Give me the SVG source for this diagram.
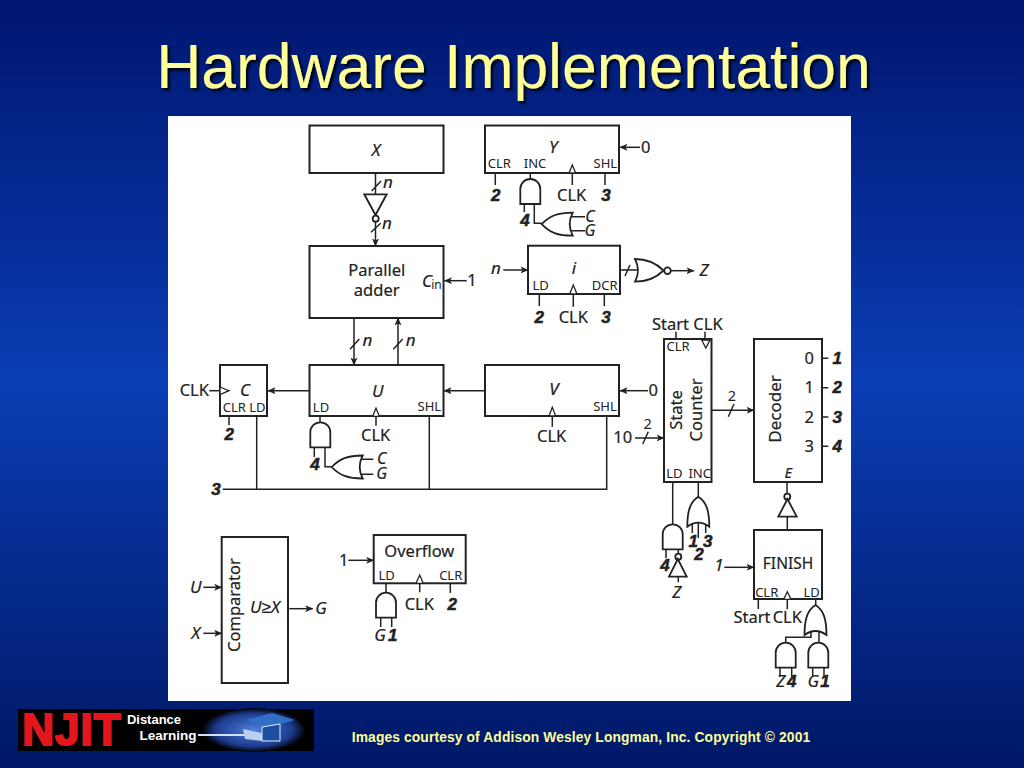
<svg xmlns="http://www.w3.org/2000/svg" width="1024" height="768" viewBox="0 0 1024 768">
<style>
text{font-family:"Noto Sans","Liberation Sans",sans-serif;fill:#222;text-anchor:middle;dominant-baseline:central}
.box{fill:#fff;stroke:#222;stroke-width:2}
.w{fill:none;stroke:#222;stroke-width:1.5}
.a{fill:none;stroke:#222;stroke-width:1.5;marker-end:url(#ah)}
.g{fill:#fff;stroke:#222;stroke-width:1.8}
.ck{fill:#fff;stroke:#222;stroke-width:1.3}
.m{font-size:16.5px;stroke:#222;stroke-width:.2}
.s{font-size:13px}
.t{font-size:14.5px}
.i{font-size:17px;font-style:italic;stroke:#222;stroke-width:.2}
.cg{font-size:16px}
.b{font-size:17px;font-style:italic;font-weight:700;font-family:"Liberation Sans",sans-serif;stroke:#222;stroke-width:.5}
.l{font-family:"Liberation Sans",sans-serif;font-weight:700}
</style>
<defs>
<linearGradient id="bg" x1="0" y1="0" x2="0" y2="1">
<stop offset="0" stop-color="#001670"/><stop offset="0.5" stop-color="#0a3db4"/><stop offset="1" stop-color="#001866"/>
</linearGradient>
<radialGradient id="gl" cx="0.5" cy="0.5" r="0.5">
<stop offset="0" stop-color="#4f7fd8"/><stop offset="0.75" stop-color="#1c3a8c"/><stop offset="1" stop-color="#000"/>
</radialGradient>
<filter id="sh" x="-5%" y="-20%" width="110%" height="140%"><feDropShadow dx="2.500" dy="2.500" stdDeviation="0.800" flood-color="#000" flood-opacity="0.850"/></filter>
<marker id="ah" markerUnits="userSpaceOnUse" markerWidth="8" markerHeight="7" refX="7.500" refY="3.500" orient="auto"><path d="M0 0L8 3.500L0 7L2 3.500Z" fill="#222"/></marker>
<path id="and" class="g" d="M0 25V10A10 10 0 0 1 20 10V25Z"/>
<path id="orL" class="g" d="M0 11.500C8 3 16 0 31 0Q25 11.500 31 23C16 23 8 20 0 11.500Z"/>
<path id="orU" class="g" d="M11 0C19 5 22 14 22 30Q11 22 0 30C0 14 3 5 11 0Z"/>
</defs>
<rect width="1024" height="768" fill="url(#bg)"/>
<text x="513.500" y="66" font-size="62.400" style="font-family:'Liberation Sans',sans-serif;fill:#ffff99" filter="url(#sh)">Hardware Implementation</text>
<rect x="168" y="116" width="683" height="585" fill="#fff"/>

<g id="connectors">
<path class="w" d="M375.500 173V194M371.700 191L381 181"/>
<path class="a" d="M375.500 222V246"/>
<path class="w" d="M371 232.300L380.700 223.300"/>
<path class="a" d="M354 318V365"/><path class="w" d="M350 349.300L359.300 339"/>
<path class="a" d="M398 365V318"/><path class="w" d="M393.300 349.300L402.700 339"/>
<path class="a" d="M466.700 280.700H444.500"/>
<path class="a" d="M485 390.700H444"/>
<path class="a" d="M309 390.700H268"/>
<path class="w" d="M209.300 390.700H220"/>
<path class="a" d="M648 390.700H620"/>
<path class="a" d="M640 147.300H620"/>
<path class="a" d="M503.300 270H528"/>
<path class="w" d="M620 270H637M625 276L630 265"/>
<path class="a" d="M671 270.700H694"/>
<path class="w" d="M495.300 173V185M605 173V185M572.300 173V185"/>
<path class="w" d="M530.300 173V179M524.300 204V212M534.300 204V223.300H541.700M569 216.700H585M569 230.700H585"/>
<path class="w" d="M539.300 294V306M604.300 294V306M573.300 294V306.700"/>
<path class="w" d="M676 331.700V340M705 331.700V340"/>
<path class="w" d="M229 416V425M256.700 416V489M429.300 416V489M606.700 416V489.300H222.700"/>
<path class="w" d="M376 416V425.700M552.300 416V426.700"/>
<path class="w" d="M320 416V422.300M314.300 447V457M325 447V466.700H331.700M358 459.300H373.300M358 474.300H373.300"/>
<path class="a" d="M635 438H664"/><path class="w" d="M642.700 444L648.300 431.700"/>
<path class="a" d="M712 410.300H754"/><path class="w" d="M728.300 416.700L734 404"/>
<path class="w" d="M822 358.300H828.300M822 387.700H828.300M822 417H828.300M822 446.300H828.300"/>
<path class="w" d="M787 482V494M787.300 516.700V530"/>
<path class="a" d="M724.300 567.300H754"/>
<path class="w" d="M758.300 599V609M787.300 599V609.300M815.700 599V605"/>
<path class="w" d="M785.700 642.700V637.300H811V632M819 642.700V632M780 667V677M791.700 667V677M812.700 667V677M824 667V677"/>
<path class="w" d="M672.700 482V524.300M666 549V558M678.300 549V553.700M678.300 576.700V582.300"/>
<path class="w" d="M698.300 482V496.700M692.300 524V533M698.300 522V538M705.700 524V533"/>
<path class="a" d="M203.300 587.300H221.700"/><path class="a" d="M203.300 633.300H221.700"/>
<path class="a" d="M289.300 608.700H312.700"/>
<path class="a" d="M348.300 560.300H373.700"/>
<path class="w" d="M419.700 583V592.300M450.300 583V593M386 583V592.700M380.700 617V627M391.700 617V627"/>
</g>

<g id="node-x"><rect class="box" x="309.500" y="125.500" width="134" height="47.500"/><text class="i" x="376" y="149">X</text></g>
<g id="not-x"><path class="g" d="M364.300 194.300H386.700L375.500 215Z"/><circle class="g" cx="375.700" cy="218.700" r="3"/></g>
<text class="i" x="388" y="181">n</text><text class="i" x="387" y="222.500">n</text>
<g id="node-adder"><rect class="box" x="309.500" y="246" width="134" height="72"/><text class="m" x="376.700" y="269">Parallel</text><text class="m" x="376.700" y="289">adder</text><text class="i" x="427" y="280">C</text><text class="s" style="font-size:12px" x="436.500" y="284">in</text></g>
<text class="m" x="472" y="279.700">1</text>
<text class="i" x="367.300" y="339.500">n</text><text class="i" x="410.700" y="339.500">n</text>

<g id="node-y"><rect class="box" x="485" y="125.500" width="134" height="47.500"/><text class="i" x="553.300" y="146.300">Y</text><text class="s" x="499.300" y="163.300">CLR</text><text class="s" x="535" y="163.300">INC</text><text class="s" x="605.300" y="163.300">SHL</text><path class="ck" d="M569 173L572.300 165L575.700 173Z"/></g>
<text class="m" x="645.700" y="146.300">0</text><text class="b" x="495.700" y="195">2</text><text class="m" x="571.700" y="194">CLK</text><text class="b" x="606" y="195">3</text>
<g id="and-y"><use href="#and" x="520.300" y="179"/></g><g id="or-y"><use href="#orL" x="541.700" y="212.700"/></g>
<text class="b" x="525" y="220">4</text><text class="i cg" x="590" y="215.700">C</text><text class="i cg" x="590" y="230.300">G</text>

<g id="node-i"><rect class="box" x="528" y="245.700" width="92" height="48.300"/><text class="i" x="574" y="267.300">i</text><text class="s" x="540.700" y="285">LD</text><text class="s" x="604.700" y="285">DCR</text><path class="ck" d="M569.700 294L573.300 285L577 294Z"/></g>
<text class="i" x="496" y="267.500">n</text><text class="b" x="539.300" y="317.300">2</text><text class="m" x="573.300" y="316.300">CLK</text><text class="b" x="606" y="317.300">3</text>
<g id="nor-i"><path class="g" d="M635 259C648 259 656 263 663.500 270.500C656 278 648 281.700 635 281.700Q641 270.500 635 259Z"/><circle class="g" cx="667.500" cy="270.700" r="3.300"/></g>
<text class="i" x="704" y="269">Z</text>

<g id="node-c"><rect class="box" x="220" y="365" width="47" height="51"/><text class="i" x="245" y="389">C</text><text class="s" x="234.300" y="406.700">CLR</text><text class="s" x="257.300" y="406.700">LD</text><path class="ck" d="M220 387L229 390.700L220 394.500Z"/></g>
<text class="m" x="194.300" y="389.700">CLK</text><text class="b" x="229.300" y="434.300">2</text>
<g id="node-u"><rect class="box" x="309.500" y="365" width="134" height="51"/><text class="i" x="377.700" y="390">U</text><text class="s" x="321" y="406.700">LD</text><text class="s" x="429.300" y="405.700">SHL</text><path class="ck" d="M372.700 416.300L376 408.300L379.300 416.300Z"/></g>
<text class="m" x="375.700" y="434.700">CLK</text>
<g id="and-u"><use href="#and" x="310.300" y="422.300"/></g><g id="or-u"><use href="#orL" x="331.700" y="455.500"/></g>
<text class="b" x="315" y="464.300">4</text><text class="i cg" x="381.700" y="458">C</text><text class="i cg" x="381.700" y="473.300">G</text>
<text class="b" x="216" y="489.300">3</text>

<g id="node-v"><rect class="box" x="485" y="365" width="134" height="51"/><text class="i" x="554" y="388.300">V</text><text class="s" x="605" y="406.300">SHL</text><path class="ck" d="M549 416L552.300 407.300L555.700 416Z"/></g>
<text class="m" x="653.300" y="389">0</text><text class="m" x="551.700" y="435.700">CLK</text>

<g id="node-counter"><rect class="box" x="664" y="339" width="47.500" height="143"/><text class="s" x="678" y="346.300">CLR</text><path class="ck" d="M701.700 340H710L705.800 348Z"/><text class="m" transform="translate(675.700 410) rotate(-90)">State</text><text class="m" transform="translate(695 410) rotate(-90)">Counter</text><text class="s" x="674.300" y="473.300">LD</text><text class="s" x="699.700" y="473.300">INC</text></g>
<text class="m" x="687.300" y="323.300">Start CLK</text><text class="m" x="622.700" y="436.700">10</text><text class="t" x="647.700" y="423.300">2</text><text class="t" x="732" y="395">2</text>
<g id="and-ld"><use href="#and" x="662.700" y="524.300"/><circle class="g" cx="678.300" cy="556.700" r="3"/><path class="g" d="M669 576.700H686.700L677.800 559Z"/></g>
<g id="or-inc"><use href="#orU" x="687.300" y="496.700"/></g>
<text class="b" x="665" y="565.700">4</text><text class="i" x="676.700" y="591.300">Z</text><text class="b" x="693.300" y="541.700">1</text><text class="b" x="707.700" y="541.700">3</text><text class="b" x="699" y="554">2</text>

<g id="node-decoder"><rect class="box" x="754" y="339" width="68" height="143"/><text class="m" style="font-size:17px" transform="translate(774.700 409) rotate(-90)">Decoder</text><text class="m" x="809.300" y="357.300">0</text><text class="m" x="809.300" y="386.700">1</text><text class="m" x="809.300" y="416">2</text><text class="m" x="809.300" y="445.300">3</text><text class="i" style="font-size:14.500px" x="788.300" y="472.300">E</text></g>
<text class="b" x="837.300" y="358.300">1</text><text class="b" x="837.300" y="387.700">2</text><text class="b" x="837.300" y="417">3</text><text class="b" x="837.300" y="446.300">4</text>
<g id="not-e"><circle class="g" cx="787.300" cy="496.700" r="3"/><path class="g" d="M778.300 516.700H796.700L787.500 499Z"/></g>

<g id="node-finish"><rect class="box" x="754" y="530" width="68" height="69"/><text class="m" style="font-size:15.500px" x="788" y="563.300">FINISH</text><text class="s" x="766.700" y="592.300">CLR</text><text class="s" x="811.700" y="592.300">LD</text><path class="ck" d="M783.700 599.300L787.300 591.700L791 599.300Z"/></g>
<text class="i" x="719" y="564.300">1</text><text class="m" x="752" y="616.300">Start</text><text class="m" x="787.300" y="616.300">CLK</text>
<g id="or-finish"><use href="#orU" x="804.500" y="605"/></g>
<g id="and-f1"><use href="#and" x="775.700" y="642.700"/></g><g id="and-f2"><use href="#and" x="808.300" y="642.700"/></g>
<text class="i" x="780.700" y="680.700">Z</text><text class="b" x="791.700" y="681.700">4</text><text class="i" x="813.300" y="680.700">G</text><text class="b" x="825" y="681.700">1</text>

<g id="node-comparator"><rect class="box" x="221.700" y="537" width="66.300" height="146"/><text class="m" transform="translate(233 605) rotate(-90)">Comparator</text><text class="i" x="265" y="606.300">U≥X</text></g>
<text class="i" x="195.700" y="586.300">U</text><text class="i" x="195.700" y="632.300">X</text><text class="i" x="321" y="607.700">G</text>

<g id="node-overflow"><rect class="box" x="373.700" y="535" width="92" height="48.300"/><text class="m" x="419.300" y="550.700">Overflow</text><text class="s" x="386.700" y="575">LD</text><text class="s" x="450.700" y="575">CLR</text><path class="ck" d="M416 583.300L419.700 575L423.300 583.300Z"/></g>
<text class="m" x="343.700" y="559">1</text><text class="m" x="419.300" y="603">CLK</text><text class="b" x="452.300" y="604">2</text>
<g id="and-o"><use href="#and" x="376" y="592.700"/></g>
<text class="i" x="380" y="634">G</text><text class="b" x="392.700" y="635">1</text>

<g id="logo">
<rect x="18" y="709" width="296" height="42" fill="#000"/>
<ellipse cx="254" cy="730" rx="52" ry="22" fill="url(#gl)"/>
<path d="M198 735H245" stroke="#cfe0ff" stroke-width="2" fill="none"/>
<path d="M243 729L262 733L262 741L245 739Z" fill="#b9cfee"/>
<path d="M245 720L272 713L295 720L270 727Z" fill="#2f6fc8"/>
<path d="M262 727L280 724V741H262Z" fill="#1c4fa0" stroke="#dfe9ff"/>
<text class="l" x="72" y="729" font-size="44" letter-spacing="1" style="fill:#e3161d;stroke:#e3161d;stroke-width:2">NJIT</text>
<text class="l" x="154" y="719" font-size="13" style="fill:#fff">Distance</text>
<text class="l" x="168" y="735" font-size="13.500" style="fill:#fff">Learning</text>
</g>
<text class="l" x="581" y="737" font-size="13.800" letter-spacing="0.13" style="fill:#ffff99">Images courtesy of Addison Wesley Longman, Inc. Copyright © 2001</text>
</svg>
